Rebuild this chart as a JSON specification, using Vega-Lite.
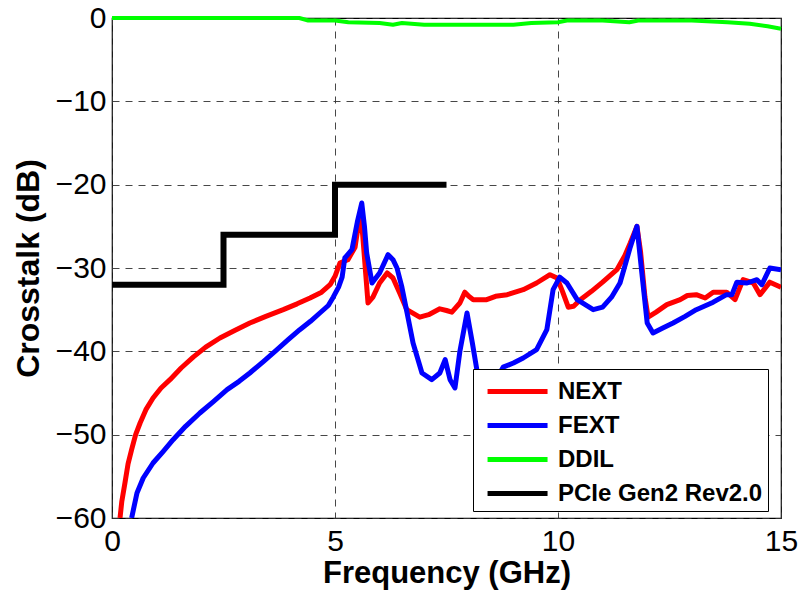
{
  "$schema": "https://vega.github.io/schema/vega-lite/v6.json",
  "width": 669,
  "height": 500,
  "autosize": {"type": "none"},
  "padding": {"left": 112, "top": 18, "right": 19, "bottom": 84},
  "background": "white",
  "config": {
    "font": "Liberation Sans",
    "view": {"stroke": "black", "strokeWidth": 1.2},
    "axis": {
      "labelFont": "Liberation Sans",
      "labelFontSize": 30,
      "labelColor": "black",
      "titleFont": "Liberation Sans",
      "titleFontWeight": "bold",
      "titleColor": "black",
      "grid": true,
      "gridColor": "#333333",
      "gridDash": [7, 6],
      "gridWidth": 1,
      "gridOpacity": 0.9,
      "domain": false,
      "ticks": false,
      "labelFlush": false,
      "labelOverlap": false
    }
  },
  "datasets": {
    "curves": [
      {"series": "NEXT", "f": 0.18, "db": -60},
      {"series": "NEXT", "f": 0.22, "db": -58},
      {"series": "NEXT", "f": 0.29, "db": -55.8},
      {"series": "NEXT", "f": 0.36, "db": -53.5},
      {"series": "NEXT", "f": 0.44, "db": -51.8},
      {"series": "NEXT", "f": 0.53, "db": -50},
      {"series": "NEXT", "f": 0.63, "db": -48.6},
      {"series": "NEXT", "f": 0.76, "db": -47},
      {"series": "NEXT", "f": 0.92, "db": -45.6},
      {"series": "NEXT", "f": 1.1, "db": -44.4},
      {"series": "NEXT", "f": 1.3, "db": -43.4},
      {"series": "NEXT", "f": 1.55, "db": -42},
      {"series": "NEXT", "f": 1.82, "db": -40.7},
      {"series": "NEXT", "f": 2.1, "db": -39.5},
      {"series": "NEXT", "f": 2.42, "db": -38.4},
      {"series": "NEXT", "f": 2.75, "db": -37.5},
      {"series": "NEXT", "f": 3.09, "db": -36.6},
      {"series": "NEXT", "f": 3.45, "db": -35.8},
      {"series": "NEXT", "f": 3.84, "db": -35.0},
      {"series": "NEXT", "f": 4.15, "db": -34.3},
      {"series": "NEXT", "f": 4.44, "db": -33.6},
      {"series": "NEXT", "f": 4.7, "db": -32.9},
      {"series": "NEXT", "f": 4.89, "db": -32.0},
      {"series": "NEXT", "f": 5.0, "db": -31.0},
      {"series": "NEXT", "f": 5.11, "db": -29.4},
      {"series": "NEXT", "f": 5.29, "db": -29.0},
      {"series": "NEXT", "f": 5.45, "db": -27.5},
      {"series": "NEXT", "f": 5.56, "db": -23.5},
      {"series": "NEXT", "f": 5.62, "db": -26},
      {"series": "NEXT", "f": 5.74, "db": -34.2},
      {"series": "NEXT", "f": 5.85, "db": -33.5},
      {"series": "NEXT", "f": 6.0, "db": -31.8},
      {"series": "NEXT", "f": 6.17, "db": -30.6},
      {"series": "NEXT", "f": 6.3, "db": -31.2},
      {"series": "NEXT", "f": 6.45, "db": -33},
      {"series": "NEXT", "f": 6.61, "db": -35.0},
      {"series": "NEXT", "f": 6.9, "db": -35.9},
      {"series": "NEXT", "f": 7.1, "db": -35.6},
      {"series": "NEXT", "f": 7.35, "db": -34.9},
      {"series": "NEXT", "f": 7.5, "db": -35.1},
      {"series": "NEXT", "f": 7.62, "db": -35.3},
      {"series": "NEXT", "f": 7.8, "db": -34.2},
      {"series": "NEXT", "f": 7.91, "db": -32.9},
      {"series": "NEXT", "f": 8.0, "db": -33.4},
      {"series": "NEXT", "f": 8.1, "db": -33.8},
      {"series": "NEXT", "f": 8.4, "db": -33.8},
      {"series": "NEXT", "f": 8.6, "db": -33.4},
      {"series": "NEXT", "f": 8.86, "db": -33.2},
      {"series": "NEXT", "f": 9.22, "db": -32.6},
      {"series": "NEXT", "f": 9.52, "db": -31.8},
      {"series": "NEXT", "f": 9.82, "db": -30.8},
      {"series": "NEXT", "f": 9.98, "db": -31.2},
      {"series": "NEXT", "f": 10.1, "db": -32.8},
      {"series": "NEXT", "f": 10.23, "db": -34.7},
      {"series": "NEXT", "f": 10.35, "db": -34.6},
      {"series": "NEXT", "f": 10.5, "db": -33.8},
      {"series": "NEXT", "f": 10.75, "db": -32.8},
      {"series": "NEXT", "f": 11.0, "db": -31.7},
      {"series": "NEXT", "f": 11.32, "db": -30.2},
      {"series": "NEXT", "f": 11.5, "db": -28.5},
      {"series": "NEXT", "f": 11.62, "db": -27.0},
      {"series": "NEXT", "f": 11.77, "db": -25.0},
      {"series": "NEXT", "f": 11.85, "db": -28},
      {"series": "NEXT", "f": 11.95, "db": -33.5},
      {"series": "NEXT", "f": 12.02, "db": -35.9},
      {"series": "NEXT", "f": 12.2, "db": -35.3},
      {"series": "NEXT", "f": 12.44, "db": -34.4},
      {"series": "NEXT", "f": 12.74, "db": -33.8},
      {"series": "NEXT", "f": 12.9, "db": -33.3},
      {"series": "NEXT", "f": 13.1, "db": -33.2},
      {"series": "NEXT", "f": 13.3, "db": -33.6},
      {"series": "NEXT", "f": 13.48, "db": -32.9},
      {"series": "NEXT", "f": 13.78, "db": -32.9},
      {"series": "NEXT", "f": 13.97, "db": -33.8},
      {"series": "NEXT", "f": 14.15, "db": -31.4},
      {"series": "NEXT", "f": 14.38, "db": -31.8},
      {"series": "NEXT", "f": 14.53, "db": -33.2},
      {"series": "NEXT", "f": 14.75, "db": -31.7},
      {"series": "NEXT", "f": 15.0, "db": -32.3},

      {"series": "FEXT", "f": 0.44, "db": -60},
      {"series": "FEXT", "f": 0.56, "db": -57.0},
      {"series": "FEXT", "f": 0.7, "db": -55.2},
      {"series": "FEXT", "f": 0.92, "db": -53.4},
      {"series": "FEXT", "f": 1.15, "db": -52},
      {"series": "FEXT", "f": 1.37, "db": -50.6},
      {"series": "FEXT", "f": 1.65, "db": -49},
      {"series": "FEXT", "f": 1.97, "db": -47.4},
      {"series": "FEXT", "f": 2.28, "db": -46},
      {"series": "FEXT", "f": 2.58, "db": -44.6},
      {"series": "FEXT", "f": 2.85, "db": -43.6},
      {"series": "FEXT", "f": 3.09, "db": -42.6},
      {"series": "FEXT", "f": 3.4, "db": -41.2},
      {"series": "FEXT", "f": 3.7, "db": -39.8},
      {"series": "FEXT", "f": 3.95, "db": -38.6},
      {"series": "FEXT", "f": 4.21, "db": -37.4},
      {"series": "FEXT", "f": 4.45, "db": -36.4},
      {"series": "FEXT", "f": 4.66, "db": -35.4},
      {"series": "FEXT", "f": 4.85, "db": -34.5},
      {"series": "FEXT", "f": 4.96, "db": -33.5},
      {"series": "FEXT", "f": 5.08, "db": -32.3},
      {"series": "FEXT", "f": 5.16, "db": -31.1},
      {"series": "FEXT", "f": 5.22, "db": -28.8},
      {"series": "FEXT", "f": 5.38, "db": -27.8},
      {"series": "FEXT", "f": 5.5, "db": -24.5},
      {"series": "FEXT", "f": 5.6, "db": -22.2},
      {"series": "FEXT", "f": 5.66, "db": -25},
      {"series": "FEXT", "f": 5.71, "db": -28.2},
      {"series": "FEXT", "f": 5.83, "db": -31.8},
      {"series": "FEXT", "f": 6.0, "db": -30.6},
      {"series": "FEXT", "f": 6.19, "db": -28.4},
      {"series": "FEXT", "f": 6.3, "db": -29},
      {"series": "FEXT", "f": 6.39, "db": -30.0},
      {"series": "FEXT", "f": 6.5, "db": -32.3},
      {"series": "FEXT", "f": 6.62, "db": -35.5},
      {"series": "FEXT", "f": 6.75, "db": -39.0},
      {"series": "FEXT", "f": 6.95, "db": -42.6},
      {"series": "FEXT", "f": 7.17, "db": -43.4},
      {"series": "FEXT", "f": 7.35, "db": -42.6},
      {"series": "FEXT", "f": 7.47, "db": -41.0},
      {"series": "FEXT", "f": 7.58, "db": -43.4},
      {"series": "FEXT", "f": 7.69, "db": -44.4},
      {"series": "FEXT", "f": 7.8, "db": -40},
      {"series": "FEXT", "f": 7.96, "db": -35.4},
      {"series": "FEXT", "f": 8.08, "db": -39},
      {"series": "FEXT", "f": 8.18, "db": -42.2},
      {"series": "FEXT", "f": 8.4, "db": -45},
      {"series": "FEXT", "f": 8.6, "db": -43.5},
      {"series": "FEXT", "f": 8.77, "db": -41.9},
      {"series": "FEXT", "f": 9.0, "db": -41.4},
      {"series": "FEXT", "f": 9.22, "db": -40.8},
      {"series": "FEXT", "f": 9.52, "db": -39.8},
      {"series": "FEXT", "f": 9.75, "db": -37.4},
      {"series": "FEXT", "f": 9.89, "db": -32.6},
      {"series": "FEXT", "f": 10.04, "db": -31.1},
      {"series": "FEXT", "f": 10.2, "db": -31.8},
      {"series": "FEXT", "f": 10.43, "db": -33.8},
      {"series": "FEXT", "f": 10.79, "db": -35.0},
      {"series": "FEXT", "f": 11.0, "db": -34.7},
      {"series": "FEXT", "f": 11.2, "db": -33.5},
      {"series": "FEXT", "f": 11.39, "db": -31.8},
      {"series": "FEXT", "f": 11.62, "db": -27.5},
      {"series": "FEXT", "f": 11.77, "db": -25.0},
      {"series": "FEXT", "f": 11.88, "db": -30.6},
      {"series": "FEXT", "f": 12.0, "db": -36.6},
      {"series": "FEXT", "f": 12.13, "db": -37.8},
      {"series": "FEXT", "f": 12.35, "db": -37.2},
      {"series": "FEXT", "f": 12.58, "db": -36.6},
      {"series": "FEXT", "f": 12.85, "db": -35.8},
      {"series": "FEXT", "f": 13.1, "db": -35.0},
      {"series": "FEXT", "f": 13.48, "db": -34.1},
      {"series": "FEXT", "f": 13.78, "db": -33.2},
      {"series": "FEXT", "f": 13.9, "db": -33.2},
      {"series": "FEXT", "f": 14.01, "db": -31.7},
      {"series": "FEXT", "f": 14.24, "db": -31.8},
      {"series": "FEXT", "f": 14.46, "db": -31.4},
      {"series": "FEXT", "f": 14.57, "db": -32.0},
      {"series": "FEXT", "f": 14.75, "db": -30.0},
      {"series": "FEXT", "f": 15.0, "db": -30.2},

      {"series": "DDIL", "f": 0, "db": 0},
      {"series": "DDIL", "f": 4.2, "db": 0},
      {"series": "DDIL", "f": 4.4, "db": -0.3},
      {"series": "DDIL", "f": 5.0, "db": -0.3},
      {"series": "DDIL", "f": 5.3, "db": -0.5},
      {"series": "DDIL", "f": 6.0, "db": -0.6},
      {"series": "DDIL", "f": 6.3, "db": -0.8},
      {"series": "DDIL", "f": 6.5, "db": -0.6},
      {"series": "DDIL", "f": 7.0, "db": -0.8},
      {"series": "DDIL", "f": 8.0, "db": -0.8},
      {"series": "DDIL", "f": 9.0, "db": -0.8},
      {"series": "DDIL", "f": 9.4, "db": -0.6},
      {"series": "DDIL", "f": 10.0, "db": -0.5},
      {"series": "DDIL", "f": 10.2, "db": -0.3},
      {"series": "DDIL", "f": 11.0, "db": -0.3},
      {"series": "DDIL", "f": 11.6, "db": -0.5},
      {"series": "DDIL", "f": 11.8, "db": -0.3},
      {"series": "DDIL", "f": 13.0, "db": -0.3},
      {"series": "DDIL", "f": 13.8, "db": -0.5},
      {"series": "DDIL", "f": 14.3, "db": -0.7},
      {"series": "DDIL", "f": 14.7, "db": -1.0},
      {"series": "DDIL", "f": 15.0, "db": -1.3},

      {"series": "PCIe Gen2 Rev2.0", "f": 0, "db": -32, "k": 1},
      {"series": "PCIe Gen2 Rev2.0", "f": 2.5, "db": -32, "k": 2},
      {"series": "PCIe Gen2 Rev2.0", "f": 2.5, "db": -26, "k": 3},
      {"series": "PCIe Gen2 Rev2.0", "f": 5, "db": -26, "k": 4},
      {"series": "PCIe Gen2 Rev2.0", "f": 5, "db": -20, "k": 5},
      {"series": "PCIe Gen2 Rev2.0", "f": 7.5, "db": -20, "k": 6}
    ]
  },
  "data": {"name": "curves"},
  "encoding": {
    "x": {
      "field": "f", "type": "quantitative",
      "scale": {"domain": [0, 15], "nice": false, "zero": false},
      "axis": {"values": [0, 5, 10, 15], "title": "Frequency (GHz)", "titleFontSize": 31, "labelPadding": 8, "titlePadding": 2, "format": "d"}
    },
    "y": {
      "field": "db", "type": "quantitative",
      "scale": {"domain": [-60, 0], "nice": false, "zero": false},
      "axis": {"values": [-60, -50, -40, -30, -20, -10, 0], "title": "Crosstalk (dB)", "titleFontSize": 32, "labelPadding": 6, "titlePadding": 10, "format": "d"}
    },
    "color": {
      "field": "series", "type": "nominal",
      "scale": {"domain": ["NEXT", "FEXT", "DDIL", "PCIe Gen2 Rev2.0"], "range": ["#ff0000", "#0000ff", "#00ff00", "#000000"]},
      "legend": {
        "title": null,
        "orient": "none",
        "legendX": 361,
        "legendY": 351,
        "direction": "vertical",
        "symbolType": "M-0.53,0H3.47",
        "symbolSize": 900,
        "symbolStrokeWidth": 5,
        "labelFont": "Liberation Sans",
        "labelFontSize": 24,
        "labelFontWeight": "bold",
        "labelColor": "black",
        "labelOffset": 45,
        "labelLimit": 400,
        "rowPadding": 4,
        "padding": 5,
        "fillColor": "white",
        "strokeColor": "black",
        "cornerRadius": 0
      }
    }
  },
  "layer": [
    {"transform": [{"filter": "datum.series === 'NEXT'"}], "mark": {"type": "line", "strokeWidth": 5, "strokeJoin": "round", "clip": true}},
    {"transform": [{"filter": "datum.series === 'FEXT'"}], "mark": {"type": "line", "strokeWidth": 5, "strokeJoin": "round", "clip": true}},
    {"transform": [{"filter": "datum.series === 'DDIL'"}], "mark": {"type": "line", "strokeWidth": 4, "strokeJoin": "round", "clip": false}},
    {"transform": [{"filter": "datum.series === 'PCIe Gen2 Rev2.0'"}], "mark": {"type": "line", "strokeWidth": 6, "strokeJoin": "miter", "clip": true}, "encoding": {"order": {"field": "k", "type": "quantitative"}}}
  ]
}
